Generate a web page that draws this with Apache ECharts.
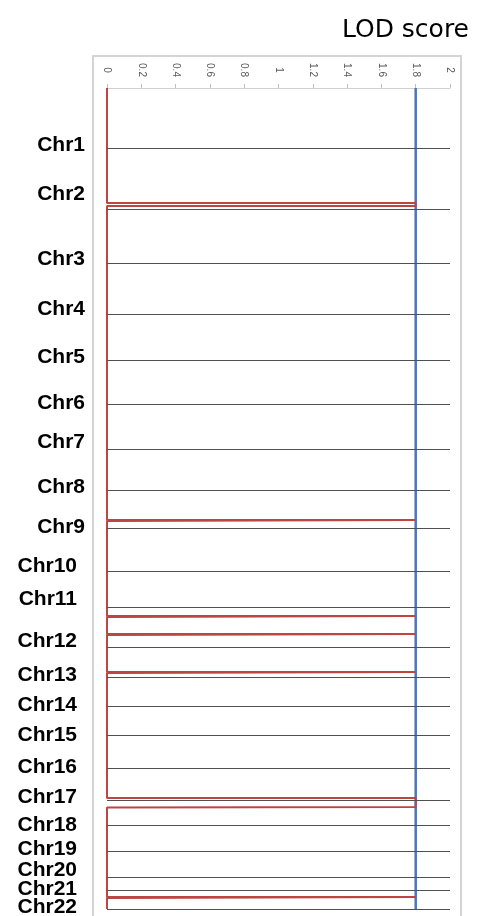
<!DOCTYPE html>
<html>
<head>
<meta charset="utf-8">
<script src="https://cdn.jsdelivr.net/npm/echarts@6/dist/echarts.min.js"></script>
<style>
html,body{margin:0;padding:0;background:#fff;}
#chart{width:478px;height:916px;}
</style>
</head>
<body>
<div id="chart"></div>
<script>
// ---- data ----
const chromosomes = ['Chr1','Chr2','Chr3','Chr4','Chr5','Chr6','Chr7','Chr8','Chr9','Chr10','Chr11',
  'Chr12','Chr13','Chr14','Chr15','Chr16','Chr17','Chr18','Chr19','Chr20','Chr21','Chr22'];
// cumulative position of each chromosome end (boundary lines)
const chrEnds = [60,121,175,226,272,316,361,402,440,483,519,559,589,618,647,680,712,737,763,789,802,821];
// cumulative position where each chromosome name is shown
const chrLabelPos = [57,106,171,221,269,315,354,399,439,478,511,553,587,617,647,679,709,737,761,782,801,819];
// LOD trace: genome position and LOD score
const lodPos = [0,115,115,118,118,432,432,433,433,528,528,529,529,546,546,547,547,
  584,584,585,585,710,710,719,719.5,809,809,810,810,821];
const lodVal = [0,0,1.8,1.8,0,0,1.8,1.8,0,0,1.8,1.8,0,0,1.8,1.8,0,
  0,1.8,1.8,0,0,1.8,1.8,0,0,1.8,1.8,0,0];
const threshold = 1.8;
const genomeEnd = 824;
const lodMax = 2;
const lodStep = 0.2;

// ---- chart ----
const chart = echarts.init(document.getElementById('chart'));
const lodData = lodPos.map((p, i) => [lodVal[i], p]);
const labelData = chromosomes.map((n, i) => ({
  name: n,
  value: [0, chrLabelPos[i]],
  label: { distance: n.length > 4 ? 30 : 22 }
}));

chart.setOption({
  animation: false,
  backgroundColor: '#fff',
  title: {
    text: 'LOD score',
    right: 4, top: 13,
    textStyle: { fontFamily: 'DejaVu Sans', fontSize: 25, fontWeight: 'normal', color: '#000' }
  },
  graphic: [{
    type: 'rect', z: -1,
    shape: { x: 93, y: 56, width: 368, height: 880 },
    style: { fill: 'none', stroke: '#d4d4d4', lineWidth: 2 }
  }],
  grid: { left: 107, right: 28, top: 88, bottom: 4 },
  xAxis: {
    type: 'value', position: 'top', min: 0, max: lodMax, interval: lodStep,
    axisLine: { show: true, lineStyle: { color: '#d0d0d0', width: 1 } },
    axisTick: { show: true, length: 4, lineStyle: { color: '#c0c0c0' } },
    axisLabel: { rotate: -90, align: 'center', verticalAlign: 'middle', fontSize: 10,
      color: '#595959', margin: 18, fontFamily: 'Liberation Sans' },
    splitLine: { show: false }
  },
  yAxis: {
    type: 'value', inverse: true, min: 0, max: genomeEnd, show: false,
    splitLine: { show: false }
  },
  series: [
    {
      type: 'line', name: 'boundaries', data: [],
      markLine: {
        symbol: 'none', silent: true, animation: false,
        label: { show: false },
        lineStyle: { color: '#505050', width: 1, type: 'solid' },
        data: chrEnds.map(v => ({ yAxis: v }))
      }
    },
    {
      type: 'line', name: 'threshold', clip: false, symbol: 'none',
      data: [[threshold, 0], [threshold, genomeEnd - 3]],
      lineStyle: { color: '#4f74b8', width: 2.5 }, z: 3
    },
    {
      type: 'line', name: 'LOD', clip: false, symbol: 'none',
      data: lodData,
      lineStyle: { color: '#bb4643', width: 2 }, z: 4
    },
    {
      type: 'scatter', name: 'labels', symbolSize: 0, silent: true,
      itemStyle: { opacity: 1 },
      data: labelData,
      label: {
        show: true, position: 'left', formatter: p => p.name, opacity: 1,
        fontFamily: 'Liberation Sans', fontWeight: 'bold', fontSize: 21, color: '#000'
      }
    }
  ]
});
</script>
</body>
</html>
